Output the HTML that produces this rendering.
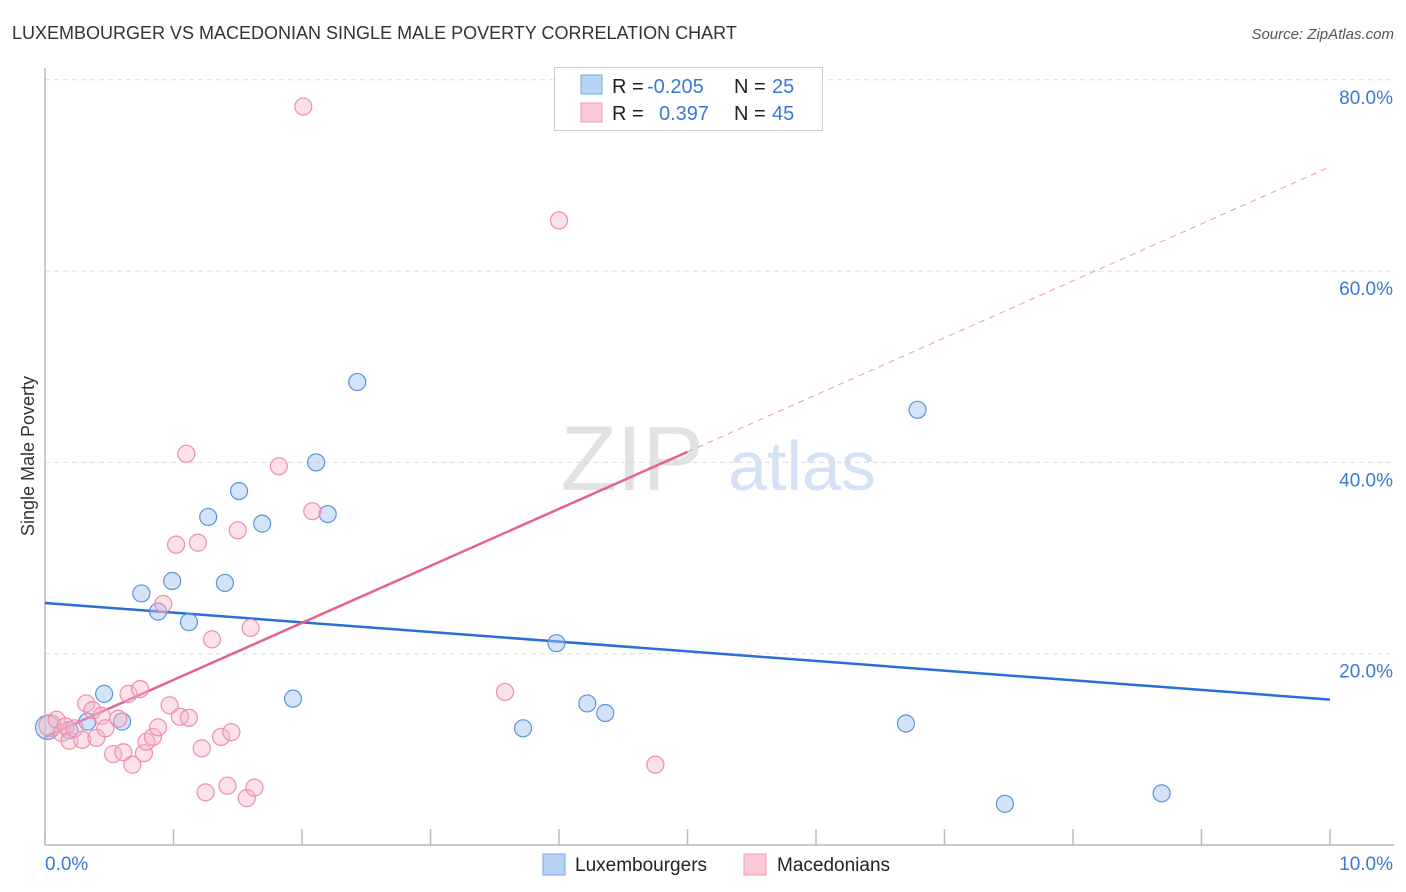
<!DOCTYPE html>
<html><head><meta charset="utf-8">
<style>
body{margin:0;background:#fff;font-family:"Liberation Sans",sans-serif;}
#wrap{position:relative;width:1406px;height:892px;overflow:hidden;}
svg text{font-family:"Liberation Sans",sans-serif;}
</style></head>
<body>
<div id="wrap">
<svg id="chart" width="1406" height="892">
  <text x="12" y="39" font-size="18" fill="#333">LUXEMBOURGER VS MACEDONIAN SINGLE MALE POVERTY CORRELATION CHART</text>
  <text x="1394" y="39" font-size="15" fill="#555" font-style="italic" text-anchor="end">Source: ZipAtlas.com</text>
  <text x="34" y="456" font-size="18" fill="#333" text-anchor="middle" transform="rotate(-90 34 456)">Single Male Poverty</text>
  <g>
    <text x="632" y="490" font-size="92" fill="#e2e2e2" text-anchor="middle" font-family="Liberation Serif, serif">ZIP</text>
    <text x="802" y="490" font-size="70" fill="#d4e2f5" text-anchor="middle">atlas</text>
  </g>
  <g id="grid"></g>
  <g id="axes"></g>
  <g id="lines"></g>
  <g id="points"></g>
  <g>
    <rect x="554.5" y="67.5" width="268" height="63" fill="#fff" stroke="#ccc"/>
    <rect x="581" y="75" width="21" height="19" fill="#b9d3f5" stroke="#7aa6e6"/>
    <rect x="581" y="103" width="21" height="19" fill="#fbc8d6" stroke="#ec9bb3"/>
    <text x="612" y="93" font-size="20" fill="#222">R = </text>
    <text x="647" y="93" font-size="20" fill="#3a78d6">-0.205</text>
    <text x="734" y="93" font-size="20" fill="#222">N = </text>
    <text x="772" y="93" font-size="20" fill="#3a78d6">25</text>
    <text x="612" y="120" font-size="20" fill="#222">R = </text>
    <text x="659" y="120" font-size="20" fill="#3a78d6">0.397</text>
    <text x="734" y="120" font-size="20" fill="#222">N = </text>
    <text x="772" y="120" font-size="20" fill="#3a78d6">45</text>
  </g>
  <g>
    <rect x="543" y="854" width="22" height="21" fill="#b9d3f5" stroke="#7aa6e6"/>
    <text x="575" y="871" font-size="19" fill="#222">Luxembourgers</text>
    <rect x="744" y="854" width="22" height="21" fill="#fbc8d6" stroke="#ec9bb3"/>
    <text x="777" y="871" font-size="19" fill="#222">Macedonians</text>
  </g>
</svg>
</div>
<script>
const luxX=[0.02,0.19,0.33,0.46,0.60,0.75,0.88,0.99,1.12,1.27,1.40,1.51,1.69,1.93,2.11,2.20,2.43,3.72,3.98,4.22,4.36,6.70,6.79,7.47,8.69];
const luxY=[12.3,12.0,12.9,15.8,12.9,26.3,24.4,27.6,23.3,34.3,27.4,37.0,33.6,15.3,40.0,34.6,48.4,12.2,21.1,14.8,13.8,12.7,45.5,4.3,5.4];
const macX=[0.04,0.09,0.13,0.16,0.19,0.23,0.29,0.32,0.37,0.40,0.44,0.47,0.53,0.57,0.61,0.65,0.68,0.74,0.77,0.79,0.84,0.88,0.92,0.97,1.02,1.05,1.10,1.12,1.19,1.22,1.25,1.30,1.37,1.42,1.45,1.50,1.57,1.60,1.63,1.82,2.01,2.08,3.58,4.00,4.75];
const macY=[12.5,13.1,11.7,12.4,10.9,12.2,11.0,14.8,14.1,11.2,13.5,12.2,9.5,13.2,9.7,15.8,8.4,16.3,9.6,10.8,11.3,12.3,25.2,14.6,31.4,13.4,40.9,13.3,31.6,10.1,5.5,21.5,11.3,6.2,11.8,32.9,4.9,22.7,6.0,39.6,77.2,34.9,16.0,65.3,8.4];
const yTicks=[20,40,60,80];
const yTickLabels=["20.0%","40.0%","60.0%","80.0%"];
const xTicks=[0,1,2,3,4,5,6,7,8,9,10];
const luxTrend=[25.3,15.2];
const macTrend=[11.3,70.9];
const macSolidEnd=5.0;

const NS="http://www.w3.org/2000/svg";
const X=v=>45+v*128.5;
const Y=v=>845-v*9.565;
function mk(tag,attrs,parent){const e=document.createElementNS(NS,tag);for(const k in attrs)e.setAttribute(k,attrs[k]);document.getElementById(parent).appendChild(e);return e;}

yTicks.forEach((t,i)=>{
  const l=mk('line',{x1:45,x2:1394,y1:Y(t),y2:Y(t),stroke:'#ddd','stroke-dasharray':'5,4'},'grid');
  
  
  const tx=mk('text',{x:1393,y:Y(t)+24,'font-size':19,fill:'#3a78d6','text-anchor':'end'},'grid');
  tx.textContent=yTickLabels[i];
  
  
});
let ax=mk('line',{x1:45,x2:45,y1:68,y2:845,stroke:'#bbb','stroke-width':1.5},'axes');


ax=mk('line',{x1:45,x2:1394,y1:845,y2:845,stroke:'#bbb','stroke-width':1.5},'axes');


xTicks.forEach(t=>{
  const l=mk('line',{x1:X(t),x2:X(t),y1:829,y2:845,stroke:'#bbb','stroke-width':1.5},'axes');
  
  
});
let tl=mk('text',{x:45,y:870,'font-size':19,fill:'#3a78d6'},'axes');tl.textContent='0.0%';


tl=mk('text',{x:1393,y:870,'font-size':19,fill:'#3a78d6','text-anchor':'end'},'axes');tl.textContent='10.0%';



luxX.forEach((v,i)=>{
  const c=mk('circle',{cx:X(v),cy:Y(luxY[i]),r:i===0?12:8.5,fill:'rgba(160,196,240,0.45)',stroke:'#5b93dd','stroke-width':1.2},'points');
  
  
});
macX.forEach((v,i)=>{
  const c=mk('circle',{cx:X(v),cy:Y(macY[i]),r:i===0?11:8.5,fill:'rgba(248,180,200,0.4)',stroke:'#ec8fae','stroke-width':1.2},'points');
  
  
});
let ln=mk('line',{x1:X(0),y1:Y(luxTrend[0]),x2:X(10),y2:Y(luxTrend[1]),stroke:'#2a6fd6','stroke-width':2.5},'lines');


const mAt=x=>macTrend[0]+(macTrend[1]-macTrend[0])*x/10;
ln=mk('line',{x1:X(0),y1:Y(mAt(0)),x2:X(macSolidEnd),y2:Y(mAt(macSolidEnd)),stroke:'#e4628f','stroke-width':2.5},'lines');


ln=mk('line',{x1:X(macSolidEnd),y1:Y(mAt(macSolidEnd)),x2:X(10),y2:Y(mAt(10)),stroke:'#e99ab5','stroke-width':1,'stroke-dasharray':'6,5'},'lines');


</script>
</body></html>
